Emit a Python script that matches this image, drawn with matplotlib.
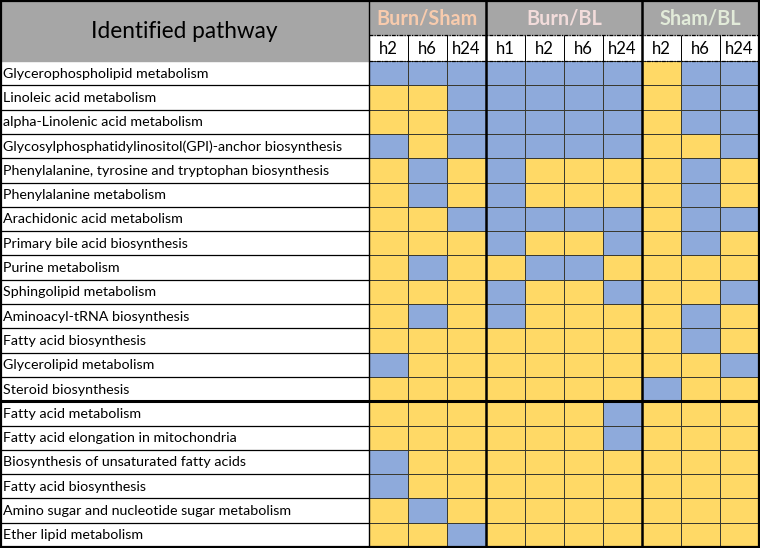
import matplotlib
matplotlib.use("Agg")
import matplotlib.pyplot as plt
import numpy as np
from matplotlib.colors import ListedColormap

plt.rcParams['font.family'] = ['Lato', 'DejaVu Sans']

pathways = [
    "Glycerophospholipid metabolism",
    "Linoleic acid metabolism",
    "alpha-Linolenic acid metabolism",
    "Glycosylphosphatidylinositol(GPI)-anchor biosynthesis",
    "Phenylalanine, tyrosine and tryptophan biosynthesis",
    "Phenylalanine metabolism",
    "Arachidonic acid metabolism",
    "Primary bile acid biosynthesis",
    "Purine metabolism",
    "Sphingolipid metabolism",
    "Aminoacyl-tRNA biosynthesis",
    "Fatty acid biosynthesis",
    "Glycerolipid metabolism",
    "Steroid biosynthesis",
    "Fatty acid metabolism",
    "Fatty acid elongation in mitochondria",
    "Biosynthesis of unsaturated fatty acids",
    "Fatty acid biosynthesis",
    "Amino sugar and nucleotide sugar metabolism",
    "Ether lipid metabolism",
]

groups = ["Burn/Sham", "Burn/BL", "Sham/BL"]
group_sizes = [3, 4, 3]
group_colors = ["#f8cbad", "#f2dcdb", "#e2ebd9"]
timepoints = ["h2", "h6", "h24", "h1", "h2", "h6", "h24", "h2", "h6", "h24"]

# 1 = blue, 0 = yellow
status = np.array([
    [1, 1, 1, 1, 1, 1, 1, 0, 1, 1],
    [0, 0, 1, 1, 1, 1, 1, 0, 1, 1],
    [0, 0, 1, 1, 1, 1, 1, 0, 1, 1],
    [1, 0, 1, 1, 1, 1, 1, 0, 0, 1],
    [0, 1, 0, 1, 0, 0, 0, 0, 1, 0],
    [0, 1, 0, 1, 0, 0, 0, 0, 1, 0],
    [0, 0, 1, 1, 1, 1, 1, 0, 1, 1],
    [0, 0, 0, 1, 0, 0, 1, 0, 1, 0],
    [0, 1, 0, 0, 1, 1, 0, 0, 0, 0],
    [0, 0, 0, 1, 0, 0, 1, 0, 0, 1],
    [0, 1, 0, 1, 0, 0, 0, 0, 1, 0],
    [0, 0, 0, 0, 0, 0, 0, 0, 1, 0],
    [1, 0, 0, 0, 0, 0, 0, 0, 0, 1],
    [0, 0, 0, 0, 0, 0, 0, 1, 0, 0],
    [0, 0, 0, 0, 0, 0, 1, 0, 0, 0],
    [0, 0, 0, 0, 0, 0, 1, 0, 0, 0],
    [1, 0, 0, 0, 0, 0, 0, 0, 0, 0],
    [1, 0, 0, 0, 0, 0, 0, 0, 0, 0],
    [0, 1, 0, 0, 0, 0, 0, 0, 0, 0],
    [0, 0, 1, 0, 0, 0, 0, 0, 0, 0],
])

# layout in pixels
W, H = 760, 548
label_w = 369
col_w = 39
top_h = 35
sub_h = 26
n_rows, n_cols = status.shape
row_h = (H - 1 - top_h - sub_h) / n_rows

fig = plt.figure(figsize=(W / 100, H / 100), dpi=100)
ax = fig.add_axes([0, 0, 1, 1])
ax.set_xlim(0, W)
ax.set_ylim(H, 0)
ax.axis("off")

x_edges = label_w + col_w * np.arange(n_cols + 1)
y0 = top_h + sub_h
y_edges = y0 + row_h * np.arange(n_rows + 1)
grid_right = x_edges[-1]

# header backgrounds
gray = "#a6a6a6"
ax.add_patch(plt.Rectangle((0, 0), label_w, y0, color=gray, zorder=0))
ax.add_patch(plt.Rectangle((label_w, 0), grid_right - label_w, top_h, color=gray, zorder=0))
ax.text(label_w / 2, y0 / 2 + 1, "Identified pathway", ha="center", va="center", fontsize=16.3)

# cells
cmap = ListedColormap(["#ffd966", "#8eaadb"])
ax.pcolormesh(x_edges, y_edges, status, cmap=cmap, vmin=0, vmax=1,
              edgecolor="#3a3a30", linewidth=0.7, zorder=1)

# pathway labels
for i, name in enumerate(pathways):
    ax.text(3, (y_edges[i] + y_edges[i + 1]) / 2 + 0.5, name, ha="left", va="center", fontsize=10.3)
ax.hlines(y_edges[1:-1], 0, label_w, color="black", linewidth=0.9, zorder=2)

# timepoint labels
for j, tp in enumerate(timepoints):
    ax.text((x_edges[j] + x_edges[j + 1]) / 2, top_h + sub_h / 2 + 1, tp,
            ha="center", va="center", fontsize=12)
ax.vlines(x_edges[1:-1], top_h, y0, color="black", linewidth=0.7, zorder=2)
ax.hlines([top_h, y0], label_w, grid_right, color="black", linewidth=0.9,
          linestyles=(0, (3, 1, 1, 1)), zorder=3)

# group labels and separators
bounds = np.concatenate([[0], np.cumsum(group_sizes)])
for g, name in enumerate(groups):
    xa, xb = x_edges[bounds[g]], x_edges[bounds[g + 1]]
    ax.text((xa + xb) / 2, top_h / 2 + 1, name, ha="center", va="center",
            fontsize=14.3, fontweight="bold", color=group_colors[g])
for b in bounds[1:-1]:
    ax.vlines(x_edges[b], 0, H, color="black", linewidth=1.8, zorder=4)
ax.vlines(label_w, 0, H, color="black", linewidth=1.0, zorder=4)

# thick separator between pathway blocks
ax.hlines(y_edges[14], 0, grid_right, color="black", linewidth=2.2, zorder=4)

# outer frame
ax.add_patch(plt.Rectangle((0.5, 0.5), grid_right - 1, H - 1.5, fill=False,
                           edgecolor="black", linewidth=1.6, zorder=5))

fig.savefig("out.png", dpi=100)
